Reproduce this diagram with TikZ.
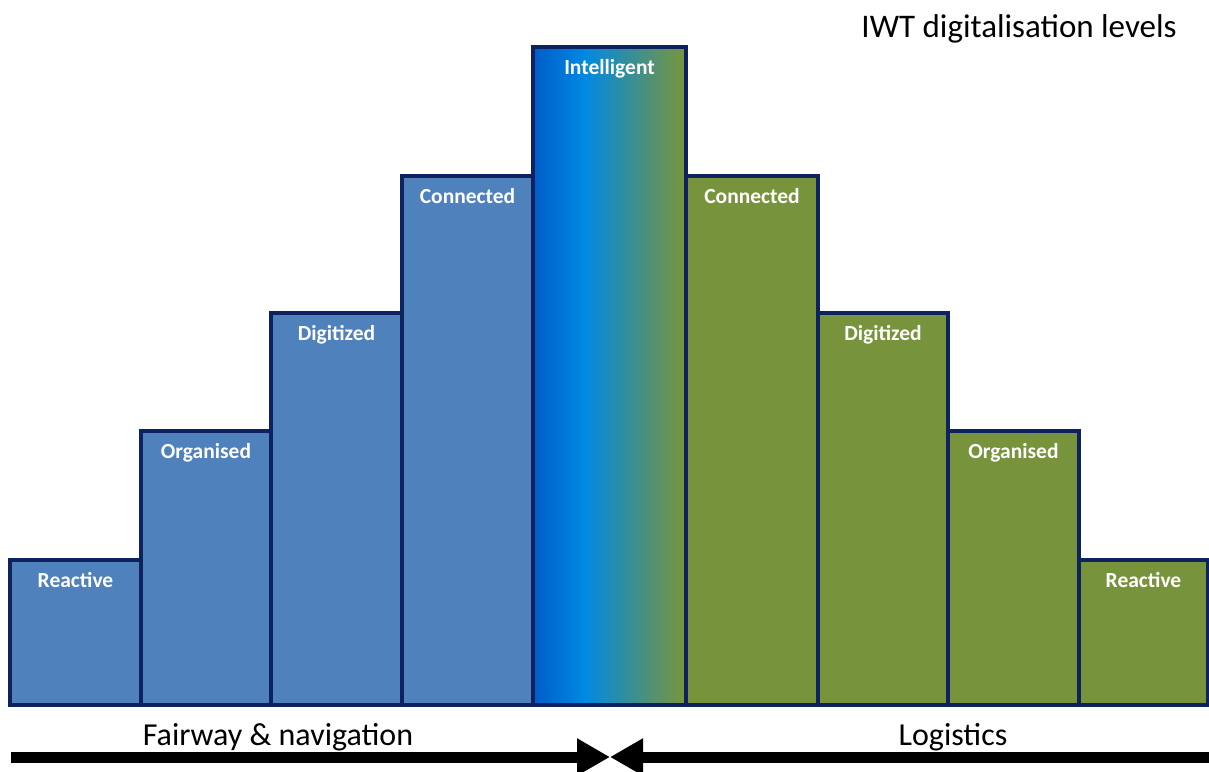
\documentclass[tikz,border=0pt]{standalone}
\usepackage{fontspec}
\setmainfont{Carlito}
\usetikzlibrary{arrows.meta,calc}
\definecolor{barblue}{HTML}{4F81BD}
\definecolor{bargreen}{HTML}{77933C}
\definecolor{edgenavy}{RGB}{14,34,96}
\definecolor{gdark}{HTML}{005CC8}
\definecolor{gbright}{HTML}{0089E3}
\definecolor{ggreen}{HTML}{7A9639}
\begin{document}
\begin{tikzpicture}[x=1pt,y=-1pt,
 bar/.style={draw=edgenavy, line width=3.1pt, anchor=south west, inner sep=0pt, outer sep=0pt},
 bluebar/.style={bar, fill=barblue},
 greenbar/.style={bar, fill=bargreen},
 barlbl/.style={text=white, font=\fontsize{21.5}{24}\selectfont\bfseries, anchor=base},
 axislbl/.style={font=\fontsize{32}{36}\selectfont, anchor=base},
 axisarrow/.style={line width=11pt, -{Triangle[length=33pt,width=35pt]}}
]
\useasboundingbox (0,0) rectangle (1209,771);
\fill[white] (0,0) rectangle (1209,771);
% left bars
\node[bluebar, minimum width=131pt, minimum height=145pt] (b1) at (10,705) {};
\node[bluebar, minimum width=130pt, minimum height=274pt] (b2) at (141,705) {};
\node[bluebar, minimum width=131pt, minimum height=392pt] (b3) at (271,705) {};
\node[bluebar, minimum width=131pt, minimum height=529pt] (b4) at (402,705) {};
% centre bar with gradient
\node[bar, draw=none, minimum width=153pt, minimum height=658pt] (b5) at (533,705) {};
\shade[left color=gdark, right color=gbright] (533,47) rectangle (585,705);
\shade[left color=gbright, right color=ggreen] (584,47) rectangle (686,705);
\draw[edgenavy, line width=3.1pt] (b5.south west) rectangle (b5.north east);
% right bars
\node[greenbar, minimum width=132pt, minimum height=529pt] (b6) at (686,705) {};
\node[greenbar, minimum width=130pt, minimum height=392pt] (b7) at (818,705) {};
\node[greenbar, minimum width=131pt, minimum height=274pt] (b8) at (948,705) {};
\node[greenbar, minimum width=129pt, minimum height=145pt] (b9) at (1079,705) {};
% labels
\node[barlbl] (t1) at ($(b1.north)+(0,27)$) {Reactive};
\node[barlbl] (t2) at ($(b2.north)+(0,27)$) {Organised};
\node[barlbl] (t3) at ($(b3.north)+(0,27)$) {Digitized};
\node[barlbl] (t4) at ($(b4.north)+(0,27)$) {Connected};
\node[barlbl] (t5) at ($(b5.north)+(0,27)$) {Intelligent};
\node[barlbl] (t6) at ($(b6.north)+(0,27)$) {Connected};
\node[barlbl] (t7) at ($(b7.north)+(0,27)$) {Digitized};
\node[barlbl] (t8) at ($(b8.north)+(0,27)$) {Organised};
\node[barlbl] (t9) at ($(b9.north)+(0,27)$) {Reactive};
% title
\node[font=\fontsize{33}{36}\selectfont, anchor=base] (title) at (1019,37) {IWT digitalisation levels};
% axis labels
\node[axislbl] (fair) at (278,745) {Fairway \& navigation};
\node[axislbl] (logi) at (953,745) {Logistics};
% arrows
\coordinate (aL) at (11,757);
\coordinate (aM) at (610,757);
\coordinate (aR) at (1209,757);
\draw[axisarrow] (aL) -- (aM);
\draw[axisarrow] (aR) -- (aM);
\end{tikzpicture}
\end{document}
